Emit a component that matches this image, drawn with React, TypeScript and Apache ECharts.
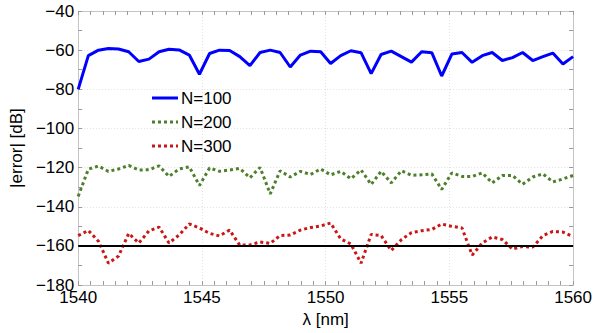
import React, { useEffect, useRef } from "react";
import * as echarts from "echarts";

const wavelengths = [
  1540.0, 1540.41, 1540.82, 1541.22, 1541.63, 1542.04, 1542.45, 1542.86, 1543.27, 1543.67,
  1544.08, 1544.49, 1544.9, 1545.31, 1545.71, 1546.12, 1546.53, 1546.94, 1547.35, 1547.76,
  1548.16, 1548.57, 1548.98, 1549.39, 1549.8, 1550.2, 1550.61, 1551.02, 1551.43, 1551.84,
  1552.24, 1552.65, 1553.06, 1553.47, 1553.88, 1554.29, 1554.69, 1555.1, 1555.51, 1555.92,
  1556.33, 1556.73, 1557.14, 1557.55, 1557.96, 1558.37, 1558.78, 1559.18, 1559.59, 1560.0,
];

const errN100 = [
  -80.0, -62.8, -60.0, -59.2, -59.4, -60.8, -65.8, -64.6, -60.8, -59.5,
  -59.9, -62.5, -72.3, -61.7, -60.0, -60.2, -63.3, -67.9, -61.2, -60.0,
  -61.2, -68.6, -62.5, -60.5, -60.8, -66.8, -62.8, -60.3, -61.3, -72.0,
  -62.2, -60.5, -63.3, -66.1, -60.8, -61.3, -73.2, -62.0, -61.2, -66.2,
  -62.8, -61.2, -65.3, -63.8, -61.2, -65.3, -63.3, -61.5, -67.1, -63.3,
];

const errN200 = [
  -134.7, -120.8, -119.2, -121.9, -120.7, -118.9, -121.2, -121.1, -119.1, -124.5,
  -120.7, -119.6, -129.1, -120.2, -121.9, -121.2, -120.4, -125.2, -119.9, -133.4,
  -121.6, -124.8, -121.9, -123.5, -120.7, -123.7, -121.9, -125.7, -121.2, -128.6,
  -121.9, -127.8, -121.6, -123.9, -123.7, -123.2, -131.1, -122.7, -124.5, -124.5,
  -122.7, -127.8, -124.0, -124.0, -128.5, -124.8, -123.2, -127.3, -125.8, -124.0,
];

const errN300 = [
  -154.7, -152.1, -157.6, -168.8, -165.2, -153.6, -158.5, -152.3, -150.4, -158.5,
  -154.4, -148.8, -150.8, -153.6, -154.9, -151.9, -159.6, -159.5, -158.0, -158.7,
  -154.7, -154.4, -151.9, -150.6, -149.8, -148.3, -156.4, -159.0, -168.8, -154.1,
  -154.7, -162.3, -156.8, -153.2, -152.2, -151.6, -148.8, -150.0, -150.8, -164.7,
  -158.5, -155.4, -156.7, -161.6, -160.3, -160.6, -154.7, -152.6, -152.9, -155.2,
];

const seriesNames = ["N=100", "N=200", "N=300"];
const seriesColors = ["#0000ff", "#4f7f2c", "#cc1515"];
const thresholdDb = -160;

const xMin = 1540;
const xMax = 1560;
const xStep = 5;
const yMin = -180;
const yMax = -40;
const yStep = 20;

const FONT = "Liberation Sans, Arial, Helvetica, sans-serif";

function pairs(ys: number[]) {
  return ys.map((y, i) => [wavelengths[i], y]);
}

const fmtY = (v: number) => (v < 0 ? "\u2212" + Math.abs(v) : String(v));
const fmtX = (v: number) => String(v);

export default function App() {
  const ref = useRef<HTMLDivElement>(null);

  useEffect(() => {
    if (!ref.current) return;
    const chart = echarts.init(ref.current, undefined, { renderer: "svg" });
    const axisLineColor = "#c4c4c4";
    const tickColor = "#9a9a9a";
    const common = {
      axisLine: { show: true, lineStyle: { color: axisLineColor, width: 1 } },
      axisTick: { show: true, inside: true, length: 4, lineStyle: { color: tickColor } },
      minorTick: { show: true, length: 4, lineStyle: { color: tickColor } },
    };

    const legendX = 152;
    const legendY0 = 98;
    const legendDy = 24;
    const legendGraphics: any[] = [];
    seriesNames.forEach((name, i) => {
      const y = legendY0 + i * legendDy;
      legendGraphics.push({
        type: "line",
        shape: { x1: legendX, y1: y, x2: legendX + 26, y2: y },
        style: {
          stroke: seriesColors[i],
          lineWidth: 3,
          lineDash: i === 0 ? null : [3, 3],
        },
        silent: true,
      });
      legendGraphics.push({
        type: "text",
        x: legendX + 29,
        y,
        style: {
          text: name,
          fill: "#000",
          font: `17px ${FONT}`,
          textVerticalAlign: "middle",
          verticalAlign: "middle",
        },
        silent: true,
      });
    });

    chart.setOption({
      animation: false,
      backgroundColor: "#ffffff",
      grid: { left: 77, right: 21, top: 11, bottom: 37, containLabel: false },
      graphic: legendGraphics,
      xAxis: [
        {
          type: "value",
          min: xMin,
          max: xMax,
          interval: xStep,
          name: "\u03bb [nm]",
          nameLocation: "middle",
          nameGap: 18,
          nameTextStyle: { fontSize: 17, fontFamily: FONT, color: "#000" },
          axisLabel: { fontSize: 17, fontFamily: FONT, color: "#000", margin: 4, formatter: fmtX },
          ...common,
          minorTick: { ...common.minorTick, splitNumber: 10 },
          splitLine: { show: true, lineStyle: { color: "#e0e0e0", type: [1, 2] } },
        },
        {
          type: "value",
          position: "top",
          min: xMin,
          max: xMax,
          interval: xStep,
          axisLabel: { show: false },
          ...common,
          minorTick: { ...common.minorTick, splitNumber: 10 },
          splitLine: { show: false },
        },
      ],
      yAxis: [
        {
          type: "value",
          min: yMin,
          max: yMax,
          interval: yStep,
          name: "|error| [dB]",
          nameLocation: "middle",
          nameGap: 52,
          nameTextStyle: { fontSize: 17, fontFamily: FONT, color: "#000" },
          axisLabel: { fontSize: 17, fontFamily: FONT, color: "#000", margin: 4, formatter: fmtY },
          ...common,
          minorTick: { ...common.minorTick, splitNumber: 2 },
          splitLine: { show: true, lineStyle: { color: "#e0e0e0", type: [1, 2] } },
        },
        {
          type: "value",
          position: "right",
          min: yMin,
          max: yMax,
          interval: yStep,
          axisLabel: { show: false },
          ...common,
          minorTick: { ...common.minorTick, splitNumber: 2 },
          splitLine: { show: false },
        },
      ],
      series: [
        {
          name: seriesNames[0],
          type: "line",
          data: pairs(errN100),
          symbol: "none",
          color: seriesColors[0],
          lineStyle: { color: seriesColors[0], width: 3 },
          z: 3,
        },
        {
          name: seriesNames[1],
          type: "line",
          data: pairs(errN200),
          symbol: "none",
          color: seriesColors[1],
          lineStyle: { color: seriesColors[1], width: 3, type: [3, 3] },
          z: 3,
        },
        {
          name: seriesNames[2],
          type: "line",
          data: pairs(errN300),
          symbol: "none",
          color: seriesColors[2],
          lineStyle: { color: seriesColors[2], width: 3, type: [3, 3] },
          z: 3,
          markLine: {
            silent: true,
            symbol: "none",
            label: { show: false },
            lineStyle: { color: "#000", width: 2, type: "solid" },
            data: [{ yAxis: thresholdDb }],
          },
        },
      ],
    });
    return () => chart.dispose();
  }, []);

  return <div ref={ref} style={{ width: 595, height: 333, position: "absolute", left: 0, top: 0 }} />;
}
